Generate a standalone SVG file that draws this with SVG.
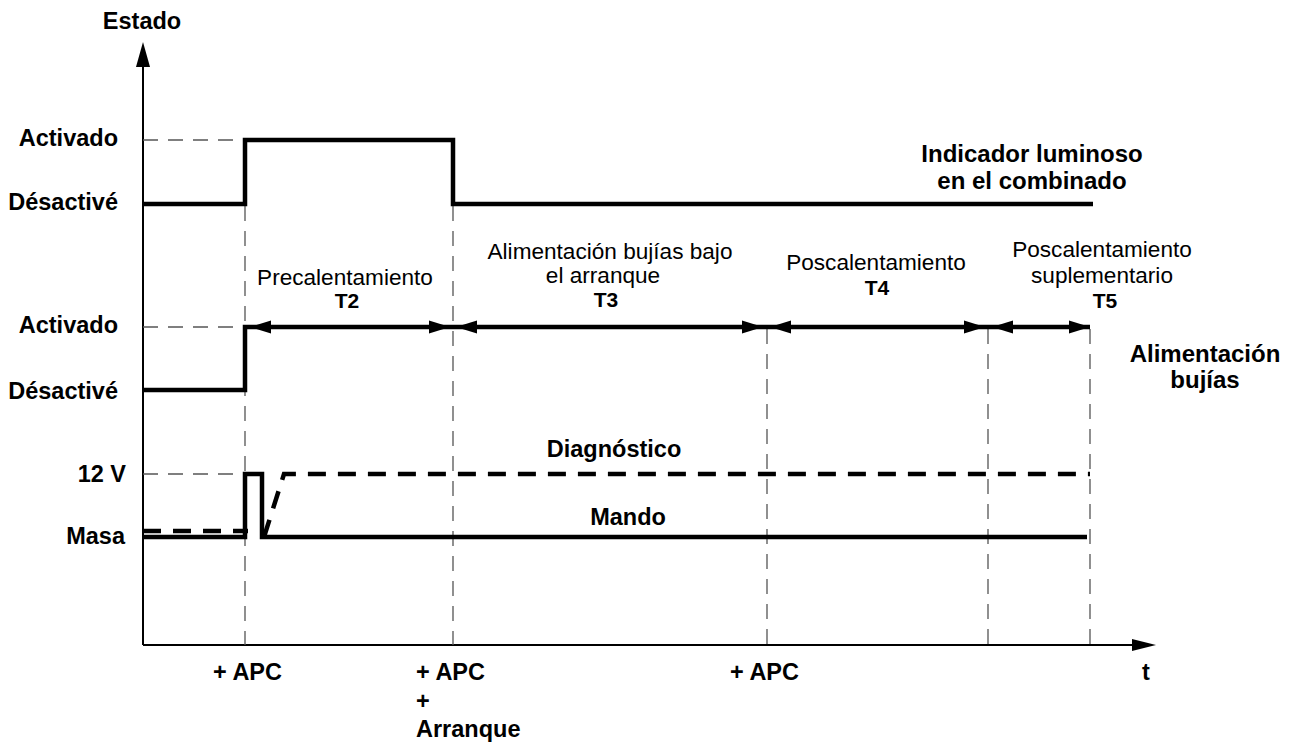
<svg xmlns="http://www.w3.org/2000/svg" width="1289" height="743" viewBox="0 0 1289 743">
<style>
.b{font-family:"Liberation Sans",Arial,sans-serif;font-weight:bold;font-size:23.5px;fill:#000}
.r{font-family:"Liberation Sans",Arial,sans-serif;font-weight:bold;font-size:24px;fill:#000}
.n{font-family:"Liberation Sans",Arial,sans-serif;font-size:22.6px;fill:#000}
.t{font-family:"Liberation Sans",Arial,sans-serif;font-weight:bold;font-size:21px;fill:#000}
.g{stroke:#555;stroke-width:1.3;stroke-dasharray:15 10;fill:none}
.s{stroke:#000;stroke-width:4.5;fill:none}
.d{stroke:#000;stroke-width:4.5;fill:none;stroke-dasharray:18 12}
.ax{stroke:#000;stroke-width:2;fill:none}
</style>
<defs>
<path id="ah" d="M0,0 L-21,-6.5 L-21,6.5 Z" fill="#000"/>
</defs>
<g id="axes">
<line class="ax" x1="143" y1="645" x2="143" y2="62"/>
<path d="M143,42 L136,67 L150,67 Z" fill="#000"/>
<line class="ax" x1="143" y1="645" x2="1136" y2="645"/>
<path d="M1156,645 L1132,639 L1132,651 Z" fill="#000"/>
<text class="b" x="142" y="29" text-anchor="middle">Estado</text>
<text class="b" x="1146" y="680" text-anchor="middle">t</text>
</g>
<g id="guides">
<line class="g" x1="143" y1="140" x2="245" y2="140"/>
<line class="g" x1="143" y1="327" x2="245" y2="327"/>
<line class="g" x1="143" y1="474" x2="245" y2="474"/>
<line class="g" x1="245" y1="206" x2="245" y2="645"/>
<line class="g" x1="453" y1="206" x2="453" y2="645"/>
<line class="g" x1="767" y1="329" x2="767" y2="645"/>
<line class="g" x1="988" y1="329" x2="988" y2="645"/>
<line class="g" x1="1090" y1="329" x2="1090" y2="645"/>
</g>
<g id="indicador">
<path class="s" d="M143,204 H245 V140 H453 V204 H1093"/>
<text class="b" x="118" y="146" text-anchor="end">Activado</text>
<text class="b" x="118" y="210" text-anchor="end">Désactivé</text>
<text class="r" x="1032" y="162" text-anchor="middle">Indicador luminoso</text>
<text class="r" x="1032" y="189" text-anchor="middle">en el combinado</text>
</g>
<g id="alimentacion">
<path class="s" d="M143,390 H245 V327 H1090"/>
<use href="#ah" transform="translate(250,327) scale(-1,1)"/>
<use href="#ah" transform="translate(450,327)"/>
<use href="#ah" transform="translate(456,327) scale(-1,1)"/>
<use href="#ah" transform="translate(763,327)"/>
<use href="#ah" transform="translate(770,327) scale(-1,1)"/>
<use href="#ah" transform="translate(985,327)"/>
<use href="#ah" transform="translate(992,327) scale(-1,1)"/>
<use href="#ah" transform="translate(1090,327)"/>
<text class="b" x="118" y="333" text-anchor="end">Activado</text>
<text class="b" x="118" y="399" text-anchor="end">Désactivé</text>
<text class="r" x="1205" y="362" text-anchor="middle">Alimentación</text>
<text class="r" x="1205" y="388" text-anchor="middle">bujías</text>
</g>
<g id="fases">
<text class="n" x="345" y="285" text-anchor="middle">Precalentamiento</text>
<text class="t" x="347" y="308" text-anchor="middle">T2</text>
<text class="n" x="610" y="259" text-anchor="middle">Alimentación bujías bajo</text>
<text class="n" x="603" y="283" text-anchor="middle">el arranque</text>
<text class="t" x="606" y="307" text-anchor="middle">T3</text>
<text class="n" x="876" y="270" text-anchor="middle">Poscalentamiento</text>
<text class="t" x="877" y="295" text-anchor="middle">T4</text>
<text class="n" x="1102" y="257" text-anchor="middle">Poscalentamiento</text>
<text class="n" x="1102" y="283" text-anchor="middle">suplementario</text>
<text class="t" x="1105" y="308" text-anchor="middle">T5</text>
</g>
<g id="mando">
<path class="s" d="M143,537 H245 V474 H262 V537 H1087"/>
<text class="b" x="628" y="525" text-anchor="middle">Mando</text>
</g>
<g id="diagnostico">
<path class="d" d="M143,531 H248" stroke-dasharray="14 10"/>
<path class="d" d="M264,537 L284,474 H1090"/>
<text class="b" x="614" y="457" text-anchor="middle">Diagnóstico</text>
</g>
<g id="niveles">
<text class="b" x="126" y="482" text-anchor="end">12 V</text>
<text class="b" x="125" y="544" text-anchor="end">Masa</text>
</g>
<g id="eventos">
<text class="b" x="213" y="680">+ APC</text>
<text class="b" x="416" y="680">+ APC</text>
<text class="b" x="416" y="709">+</text>
<text class="b" x="416" y="737">Arranque</text>
<text class="b" x="730" y="680">+ APC</text>
</g>
</svg>
